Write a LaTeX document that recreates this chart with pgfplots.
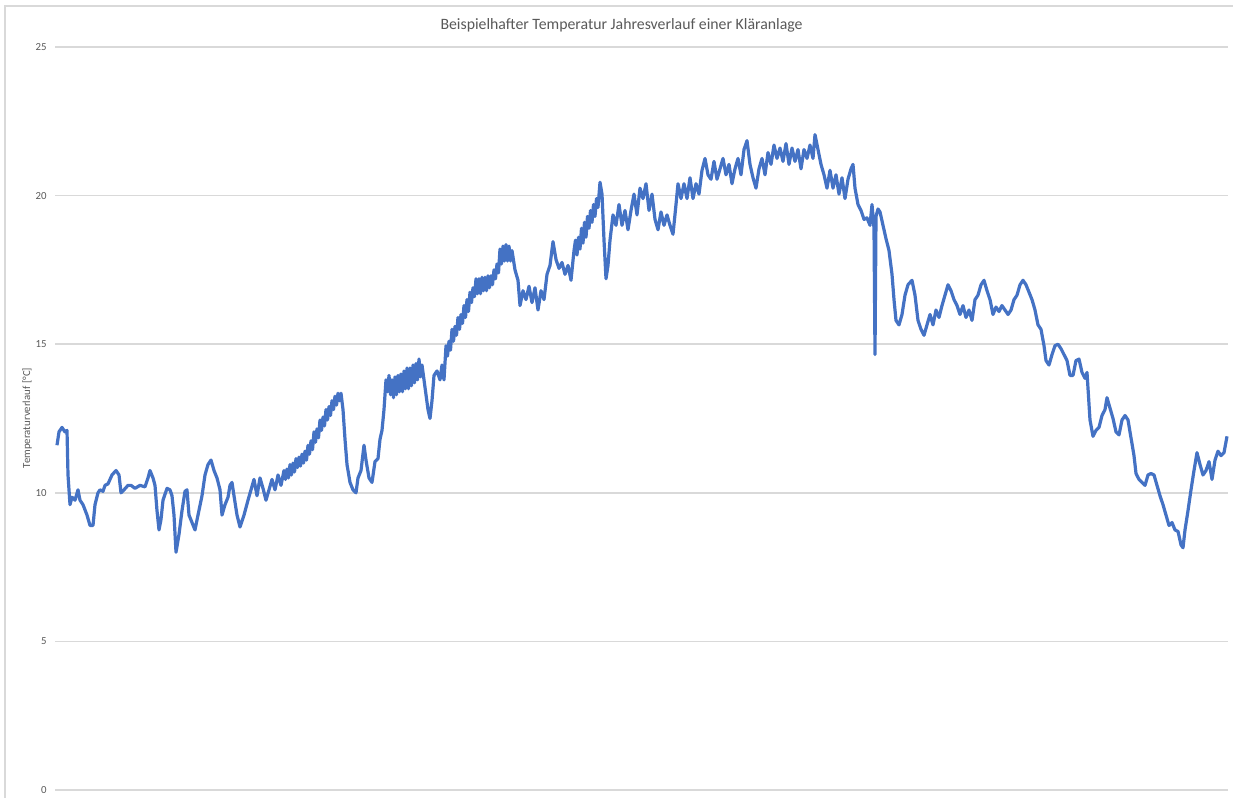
\documentclass[border=0pt]{standalone}
\usepackage{pgfplots}
\pgfplotsset{compat=1.18}
\usepackage{fontspec}
\setmainfont{Carlito}
\definecolor{linec}{HTML}{4472C4}
\definecolor{gridc}{HTML}{D9D9D9}
\definecolor{txt}{HTML}{595959}
\begin{document}
\begin{tikzpicture}[x=0.5pt,y=0.5pt]
\useasboundingbox (0,0) rectangle (1233,798);
\draw[gridc, line width=0.7pt] (5,-10) -- (5,792) -- (1250,792);
\node[text=txt, font=\fontsize{7.9}{9}\selectfont] at (621.5,773) {Beispielhafter Temperatur Jahresverlauf einer Kläranlage};
\node[text=txt, rotate=90, font=\fontsize{5.4}{6}\selectfont] at (27,380) {Temperaturverlauf [°C]};
\begin{axis}[
  at={(27.5pt,4pt)}, anchor=south west,
  scale only axis, width=586.5pt, height=371.5pt,
  xmin=55, xmax=1228, ymin=0, ymax=25,
  ytick={0,5,10,15,20,25}, xtick=\empty,
  axis line style={draw=none},
  ymajorgrids, major grid style={gridc, line width=0.75pt},
  tick style={draw=none},
  /pgf/number format/assume math mode=true,
  yticklabel style={font=\fontsize{5.4}{6}\selectfont, text=txt, anchor=east, inner sep=0pt, xshift=-4pt},
  clip=false,
]
\addplot[linec, line width=1.6pt, line join=round] coordinates {
(57,11.6)(59,12.05)(62,12.2)(65,12.05)(67,12.1)(68,10.6)(70,9.6)(72,9.85)(75,9.75)(78,10.1)(80,9.75)(83,9.6)(87,9.25)(90,8.9)(93,8.9)(95,9.6)(98,10.0)(100,10.1)(103,10.05)(105,10.25)(108,10.3)(112,10.6)(116,10.75)(119,10.6)(121,10.0)(124,10.1)(128,10.25)(131,10.25)(135,10.15)(140,10.25)(145,10.2)(148,10.5)(150,10.75)(153,10.5)(155,10.25)(157,9.4)(159,8.75)(161,9.1)(163,9.75)(167,10.15)(170,10.1)(172,9.9)(174,9.25)(176,8.0)(179,8.6)(182,9.4)(185,10.05)(187,10.1)(189,9.25)(192,9.0)(195,8.75)(198,9.25)(202,9.9)(205,10.6)(208,10.95)(211,11.1)(214,10.75)(217,10.5)(220,10.1)(222,9.25)(225,9.6)(228,9.85)(230,10.25)(232,10.35)(234,9.9)(237,9.25)(240,8.85)(244,9.25)(248,9.75)(251,10.1)(254,10.45)(257,9.9)(260,10.5)(263,10.15)(266,9.75)(269,10.1)(272,10.45)(275,10.1)(278,10.6)(281,10.25)
(284,10.75)(285.5,10.45)(287,10.8)(288.5,10.5)(290,10.95)(291.5,10.6)(293,11.0)(294.5,10.7)(296,11.15)(297.5,10.85)(299,11.2)(300.5,10.9)(302,11.3)(303.5,11.0)(305,11.4)(306.5,11.1)(308,11.6)(309.5,11.3)(311,11.75)(312.5,11.45)(314,12.05)(315.5,11.7)(317,12.15)(318.5,11.85)(320,12.45)(321.5,12.1)(323,12.55)(324.5,12.25)(326,12.8)(327.5,12.45)(329,12.9)(330.5,12.6)(332,13.1)(333.5,12.8)(335,13.25)(336.5,12.95)(338,13.35)(339.5,13.1)(341,13.35)
(343,12.8)(345,11.8)(347,10.95)(350,10.35)(353,10.1)(356,10.0)(358,10.5)(361,10.75)(364,11.6)(366,11.1)(369,10.5)(372,10.35)(375,11.05)(378,11.15)(380,11.8)(382,12.1)(384,12.8)
(386,13.8)(387.5,13.4)(389,13.95)(390.5,13.3)(392,13.8)(393.5,13.2)(395,13.9)(396.5,13.3)(398,13.95)(399.5,13.4)(401,14.0)(402.5,13.4)(404,14.1)(405.5,13.5)(407,14.2)(408.5,13.5)(410,14.2)(411.5,13.6)(413,14.3)(414.5,13.7)(416,14.35)(417.5,13.8)(419,14.5)(420.5,13.9)(422,14.3)(424,13.8)
(426,13.3)(428,12.8)(430,12.5)(432,13.1)(434,13.95)(437,14.1)(440,13.8)(442,14.3)(444,13.8)
(446,14.95)(447.5,14.6)(449,15.1)(450.5,14.8)(452,15.5)(453.5,15.1)(455,15.6)(456.5,15.3)(458,15.9)(459.5,15.5)(461,16.0)(462.5,15.7)(464,16.3)(465.5,15.9)(467,16.5)(468.5,16.1)(470,16.75)(471.5,16.4)(473,16.9)(474.5,16.6)(476,17.2)(477.5,16.7)(479,17.2)(480.5,16.7)(482,17.25)(483.5,16.8)(485,17.25)(486.5,16.8)(488,17.3)(489.5,16.9)(491,17.3)(492.5,17.0)(494,17.5)(495.5,17.2)(497,17.7)(498.5,17.4)(500,18.2)(501.5,17.7)(503,18.3)(504.5,17.8)(506,18.35)(507.5,17.8)(509,18.3)(510.5,17.8)(512,18.15)(515,17.5)
(518,17.15)(520,16.3)(523,16.8)(526,16.5)(529,16.95)(532,16.4)(535,16.9)(538,16.15)(541,16.8)(544,16.5)(547,17.35)(550,17.65)(553,18.45)(556,17.85)(559,17.55)(562,17.75)(565,17.35)(568,17.65)(571,17.15)
(574,18.15)(575.5,18.5)(577,18.0)(578.5,18.6)(580,18.2)(581.5,18.9)(583,18.4)(584.5,19.1)(586,18.6)(587.5,19.3)(589,18.9)(590.5,19.5)(592,19.1)(593.5,19.7)(595,19.3)(596.5,19.9)(598,19.6)(600,20.45)
(602,20.05)(604,18.5)(606,17.2)(608,17.65)(610,18.5)(613,19.35)(616,19.0)(619,19.7)(622,19.0)(625,19.5)(628,18.85)(631,19.5)(634,20.05)(637,19.35)(640,20.25)(643,19.9)(646,20.4)(649,19.5)(652,20.05)(655,19.2)(658,18.85)(661,19.45)(664,19.0)(667,19.35)(670,19.0)(673,18.7)(676,19.7)(678,20.4)(681,19.9)(684,20.4)(687,19.9)(690,20.6)(693,19.9)(696,20.4)(699,20.05)(702,20.85)(705,21.25)(708,20.7)(711,20.55)(714,21.15)(717,20.55)(720,20.9)(723,21.25)(726,20.7)(729,21.05)(732,20.4)(735,20.9)(738,21.25)(741,20.7)(744,21.55)(747,21.85)(750,21.05)(753,20.6)(756,20.25)(759,20.9)(762,21.25)(765,20.7)(768,21.45)(771,21.05)(774,21.7)(777,21.25)(780,21.6)(783,21.15)(786,21.75)(789,21.05)(792,21.6)(795,21.15)(798,21.55)(801,20.9)(804,21.55)(807,21.25)(810,21.7)(813,21.25)(815,22.05)(818,21.55)(821,21.05)(824,20.7)(827,20.25)(830,20.85)(833,20.25)(836,20.7)(839,20.05)(842,20.6)(845,19.9)(848,20.55)(851,20.9)(853,21.05)(855,20.25)(858,19.7)(861,19.5)(864,19.2)(867,19.25)(870,19.0)(872,19.7)(874,18.9)(875,14.65)(876,19.3)(878,19.55)(880,19.45)(883,19.0)(886,18.55)(889,18.15)(892,17.35)(894,16.5)(896,15.8)(899,15.65)(902,16.0)(905,16.65)(908,17.0)(912,17.15)(915,16.65)(918,15.8)(921,15.5)(924,15.3)(927,15.65)(930,16.0)(933,15.65)(936,16.15)(939,15.9)(942,16.3)(945,16.65)(948,17.0)(951,16.8)(954,16.5)(957,16.3)(960,16.0)(963,16.3)(966,15.9)(969,16.15)(972,15.8)(975,16.5)(978,16.65)(981,17.0)(984,17.15)(987,16.8)(990,16.5)(993,16.0)(996,16.25)(999,16.1)(1002,16.3)(1005,16.15)(1008,16.0)(1011,16.15)(1014,16.5)(1017,16.65)(1020,17.0)(1023,17.15)(1026,17.0)(1029,16.75)(1032,16.5)(1035,16.15)(1038,15.65)(1041,15.5)(1044,14.95)(1046,14.45)(1049,14.3)(1052,14.65)(1055,14.95)(1058,15.0)(1061,14.85)(1064,14.65)(1067,14.45)(1070,13.95)(1073,13.95)(1076,14.45)(1079,14.5)(1082,14.05)(1085,13.85)(1087,14.05)(1090,12.45)(1093,11.9)(1096,12.1)(1099,12.2)(1102,12.6)(1105,12.8)(1107,13.2)(1110,12.85)(1113,12.5)(1116,12.05)(1119,11.95)(1122,12.45)(1125,12.6)(1128,12.45)(1131,11.85)(1134,11.25)(1136,10.65)(1139,10.45)(1142,10.35)(1145,10.25)(1148,10.6)(1151,10.65)(1154,10.6)(1157,10.25)(1160,9.9)(1163,9.6)(1166,9.25)(1169,8.9)(1172,9.0)(1175,8.75)(1178,8.7)(1181,8.25)(1183,8.15)(1185,8.75)(1188,9.4)(1191,10.1)(1194,10.75)(1197,11.35)(1200,10.95)(1203,10.6)(1206,10.75)(1209,11.05)(1212,10.45)(1215,11.1)(1218,11.4)(1221,11.25)(1224,11.35)(1227,11.9)
};
\end{axis}
\end{tikzpicture}
\end{document}
